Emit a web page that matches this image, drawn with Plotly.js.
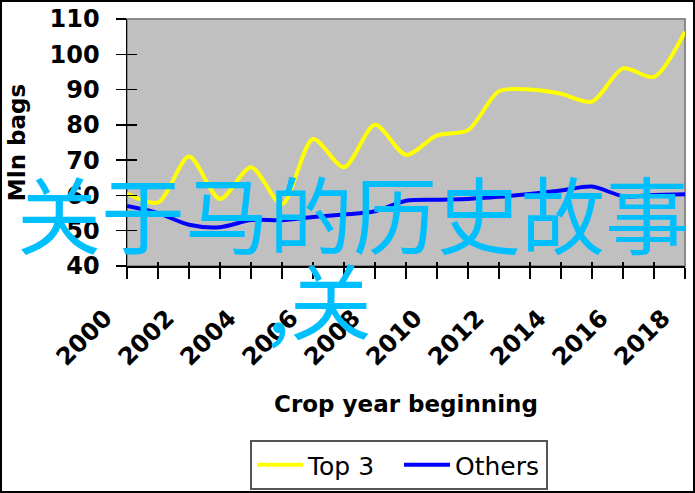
<!DOCTYPE html>
<html>
<head>
<meta charset="utf-8">
<script src="https://cdn.plot.ly/plotly-3.0.1.min.js"></script>
<style>
html,body{margin:0;padding:0;background:#fff;}
#wrap{position:relative;width:695px;height:493px;}
#chart{position:absolute;left:0;top:0;width:695px;height:493px;}
#frame{position:absolute;left:0;top:0;width:695px;height:493px;box-sizing:border-box;border:2px solid #000;pointer-events:none;}
</style>
</head>
<body>
<div id="wrap"><div id="chart"></div><div id="frame"></div></div>
<script>
const years = [2000,2001,2002,2003,2004,2005,2006,2007,2008,2009,2010,2011,2012,2013,2014,2015,2016,2017,2018];
const tickLabels = ['2000','','2002','','2004','','2006','','2008','','2010','','2012','','2014','','2016','','2018'];
const top3 = [60.5,58,71,59,68,57.5,76,68,80,71.5,77,78.5,89.5,90,88.8,86.6,96,93.6,106.4];
const others = [57,55,51.7,51,53,53,53.9,54.6,55.5,58.5,58.8,59,59.6,60.4,61.4,62.5,59.8,60.1,60.3];
const seriesNames = ['Top 3','Others'];
const overlayLine1 = '关于马的历史故事';
const overlayLine2 = ',关';

const L = 127, R = 685, T = 19, B = 266, W = 695, H = 493;
const px = x => (x - L) / (R - L);
const py = y => (B - y) / (B - T);

const tickFont = {family:'DejaVu Sans', size:24, color:'#000', weight:'bold'};
const xr = [1999.999, 2018.001];

const traces = [
  {x: years, y: top3, name: seriesNames[0], type:'scatter', mode:'lines',
   line:{color:'#FFFF00', width:4, shape:'spline', smoothing:0.8}},
  {x: years, y: others, name: seriesNames[1], type:'scatter', mode:'lines',
   line:{color:'#0000FF', width:4, shape:'spline', smoothing:0.8}}
];

const layout = {
  width: W, height: H,
  margin: {l: L, r: W - R, t: T, b: H - B, pad: 0, autoexpand: false},
  paper_bgcolor: '#fff',
  plot_bgcolor: '#C0C0C0',
  showlegend: true,
  legend: {orientation:'h', x: px(250), xanchor:'left', y: py(440), yanchor:'top',
    bgcolor:'#fff', bordercolor:'#555', borderwidth:2,
    font:{family:'DejaVu Sans', size:25, color:'#000'}, itemwidth:46, entrywidth:86, traceorder:'normal'},
  xaxis: {range: xr, tickmode:'array', tickvals: years, ticktext: tickLabels,
    tickangle:-45, ticks:'outside', ticklen:11, tickwidth:1.5, tickcolor:'#000',
    showline:true, linecolor:'#000', linewidth:1.5, showgrid:false, zeroline:false,
    tickfont: tickFont, ticklabelstandoff: 16, ticklabelshift: -22, ticklabeloverflow:'allow',
    title:{text:'Crop year beginning', font:{family:'DejaVu Sans', size:23, color:'#000', weight:'bold'}, standoff: 25}},
  xaxis2: {range: xr, overlaying:'x', anchor:'y', side:'bottom', tickmode:'array', tickvals: years,
    ticks:'inside', ticklen:4, tickwidth:1.5, tickcolor:'#000', showticklabels:false,
    showgrid:false, zeroline:false, showline:false},
  yaxis: {range:[40,110], dtick:10, ticks:'outside', ticklen:10, tickwidth:1.5, tickcolor:'#000',
    showline:true, linecolor:'#000', linewidth:1.5, showgrid:false, zeroline:false,
    tickfont: tickFont, ticklabelstandoff: 11,
    title:{text:'Mln bags', font:{family:'DejaVu Sans', size:23, color:'#000', weight:'bold'}, standoff: 17}},
  yaxis2: {range:[40,110], dtick:10, overlaying:'y', anchor:'x', side:'left',
    ticks:'inside', ticklen:10, tickwidth:1.5, tickcolor:'#000', showticklabels:false,
    showgrid:false, zeroline:false, showline:false},
  shapes: [
    {type:'rect', xref:'paper', yref:'paper', x0:0, x1:1, y0:0, y1:1, layer:'below',
     line:{color:'#8a8a8a', width:2}, fillcolor:'rgba(0,0,0,0)'}
  ],
  annotations: [
    {text: overlayLine1, xref:'paper', yref:'paper', x: px(353), y: py(212), xanchor:'center', yanchor:'middle',
     showarrow:false, font:{family:'Noto Sans CJK SC', size:84, color:'#00BFFF'}},
    {text: overlayLine2, xref:'paper', yref:'paper', x: px(319), y: py(297), xanchor:'center', yanchor:'middle',
     showarrow:false, font:{family:'Noto Sans CJK SC', size:82, color:'#00BFFF'}}
  ]
};

traces.push({x:[2000], y:[40], xaxis:'x2', yaxis:'y2', mode:'markers', marker:{opacity:0}, showlegend:false, hoverinfo:'skip'});

Plotly.newPlot('chart', traces, layout, {displayModeBar:false, staticPlot:true});
</script>
</body>
</html>
